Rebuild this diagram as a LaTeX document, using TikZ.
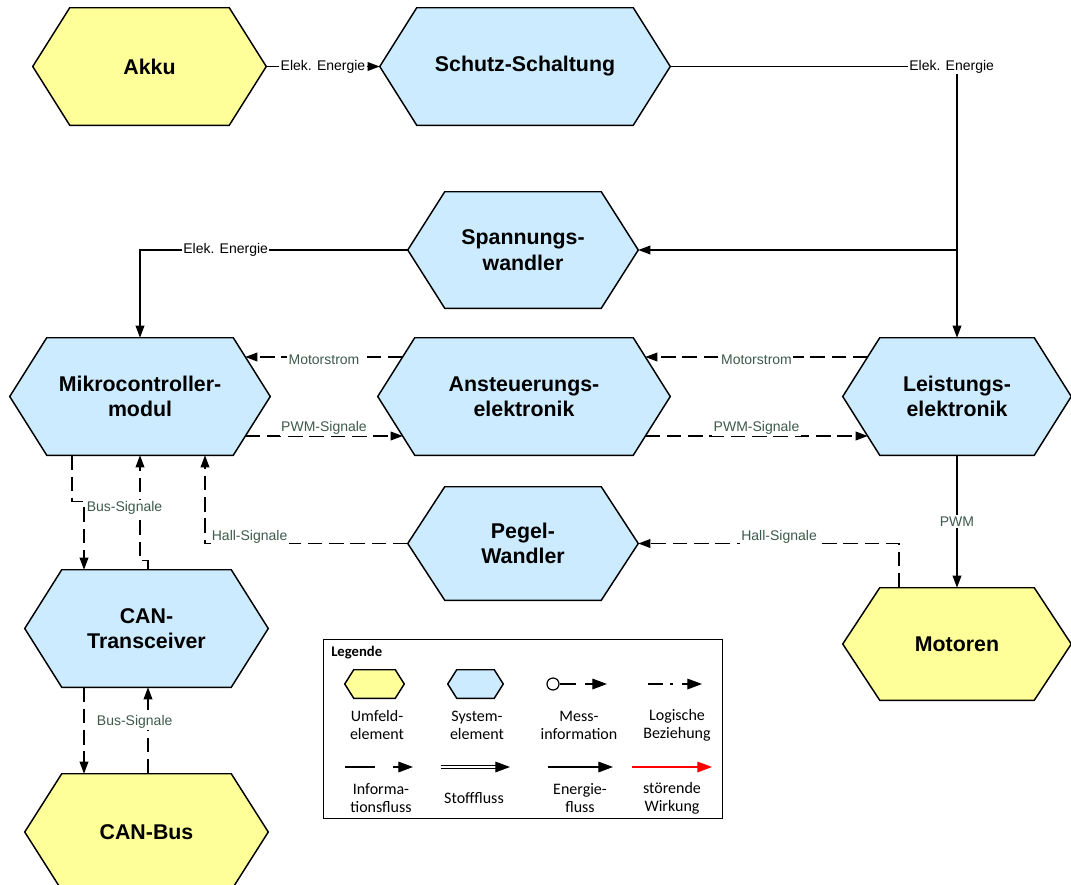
\documentclass[tikz,border=0pt]{standalone}
\usepackage{fontspec}
\setmainfont{Liberation Sans}
\newfontfamily\legfont{Carlito}
\usetikzlibrary{arrows.meta,calc,backgrounds}
\definecolor{umfeld}{HTML}{FFFF99}
\definecolor{system}{HTML}{CCEBFF}
\definecolor{sig}{HTML}{3E5A4C}
\tikzset{
 hexlabel/.style={inner sep=0pt, align=center, font=\fontsize{16}{19}\selectfont\bfseries},
 hexline/.style={draw=black, line width=1.1pt, line join=miter},
 energy/.style={draw=black, line width=1pt, -{Triangle[length=9pt,width=6.5pt]}},
 info/.style={energy, dash pattern=on 11pt off 5pt},
 elab/.style={fill=white, inner sep=1pt, font=\fontsize{10.5}{12}\selectfont},
 slab/.style={elab, text=sig},
 legtext/.style={align=center, inner sep=0pt, font=\legfont\fontsize{12}{13.5}\selectfont},
 legline/.style={line width=0.9pt},
 legarrow/.style={line width=0.9pt, -{Triangle[length=11pt,width=8pt]}},
}
\newcommand\hexa[7]{%
 \node[hexlabel, minimum width=#3*0.75pt, minimum height=#4*0.75pt] (#1) at (#2) {#7};
 \begin{scope}[on background layer]
 \filldraw[hexline, fill=#6] (#1.west) -- ($(#1.north west)+(#5,0)$) -- ($(#1.north east)+(-#5,0)$) -- (#1.east) -- ($(#1.south east)+(-#5,0)$) -- ($(#1.south west)+(#5,0)$) -- cycle;
 \end{scope}}
\begin{document}
\begin{tikzpicture}[x=0.75pt,y=-0.75pt]
\useasboundingbox (0,0) rectangle (1071,885);
% elements
\hexa{akku}{149.5,66.5}{233}{117}{37}{umfeld}{Akku}
\hexa{schutz}{525,66.5}{290}{117}{37}{system}{Schutz-Schaltung}
\hexa{spann}{523,250}{230}{116}{37}{system}{Spannungs-\\wandler}
\hexa{mikro}{140,396.5}{260}{117}{37}{system}{Mikrocontroller-\\modul}
\hexa{anst}{524,396.5}{292}{117}{37}{system}{Ansteuerungs-\\elektronik}
\hexa{leist}{957,396.5}{228}{117}{37}{system}{Leistungs-\\elektronik}
\hexa{pegel}{523,543.5}{230}{113}{37}{system}{Pegel-\\Wandler}
\hexa{cant}{146.5,628.5}{243}{117}{37}{system}{CAN-\\Transceiver}
\hexa{canbus}{146.5,832}{243}{116}{37}{umfeld}{CAN-Bus}
\hexa{motor}{957,644}{228}{112}{37}{umfeld}{Motoren}
% energy flows
\draw[energy] (akku.east) -- node[elab] (e1) {Elek. Energie} (schutz.west);
\draw[energy] (schutz.east) -| node[elab,pos=0.5,xshift=-4pt] (e2) {Elek. Energie} (leist.north);
\draw[energy] (leist.north |- spann.east) -- (spann.east);
\draw[energy] (spann.west) -| node[elab,pos=0.34] (e3) {Elek. Energie} (mikro.north);
\draw[energy] (leist.south) -- node[slab] (pwm) {PWM} (motor.north);
% information flows
\draw[info] ($(leist.west)+(25,-39.5)$) -- node[slab,yshift=-2pt] (m1) {Motorstrom} ($(anst.east)+(-25,-39.5)$);
\draw[info] ($(anst.west)+(25,-39.5)$) -- node[slab,yshift=-2pt] (m2) {Motorstrom} ($(mikro.east)+(-25,-39.5)$);
\draw[info] ($(mikro.east)+(-25,39.5)$) -- node[slab,yshift=6pt] (p1) {PWM-Signale} ($(anst.west)+(25,39.5)$);
\draw[info] ($(anst.east)+(-25,39.5)$) -- node[slab,yshift=6pt] (p2) {PWM-Signale} ($(leist.west)+(25,39.5)$);
\draw[info] ($(motor.north)+(-58,0)$) |- node[slab,pos=0.73,yshift=5pt] (h1) {Hall-Signale} (pegel.east);
\draw[info] (pegel.west) -| node[slab,pos=0.39,yshift=5pt] (h2) {Hall-Signale} ($(mikro.south)+(65,0)$);
\draw[info] ($(mikro.south)+(-68,0)$) |- ($(cant.north)+(-62.5,-68)$) -- ($(cant.north)+(-62.5,0)$);
\draw[info] ($(cant.north)+(1.5,0)$) -- ++(0,-9) -| (mikro.south);
\node[slab] (b1) at ($(cant.north)+(-22,-62)$) {Bus-Signale};
\draw[info] ($(cant.south)+(-62.5,0)$) -- ($(canbus.north)+(-62.5,0)$);
\draw[info] ($(canbus.north)+(1.5,0)$) -- node[slab,pos=0.6,xshift=-10pt] (b2) {Bus-Signale} ($(cant.south)+(1.5,0)$);
% legend
\node[draw, line width=0.6pt, minimum width=399*0.75pt, minimum height=179*0.75pt, inner sep=0pt] (legbox) at (522.5,728.5) {};
\node[anchor=west, inner sep=0pt, font=\legfont\bfseries\fontsize{11}{13}\selectfont] (legtitle) at (331,653) {Legende};
\hexa{legU}{374.5,684}{59}{28}{9}{umfeld}{}
\hexa{legS}{475.5,684}{55}{28}{9}{system}{}
\node[circle, draw, line width=0.9pt, minimum size=9pt, inner sep=0pt, fill=white] (messc) at (553,684) {};
\draw[legline] (messc.east) -- (576,684);
\draw[legarrow] (585,684) -- (607,684);
\draw[legline] (648,684) -- (663,684);
\draw[legline] (670,684) -- (672.5,684);
\draw[legarrow] (682,684) -- (702,684);
\node[legtext] (lt1) at (377,725) {Umfeld-\\element};
\node[legtext] (lt2) at (477,725) {System-\\element};
\node[legtext] (lt3) at (579,725) {Mess-\\information};
\node[legtext] (lt4) at (677,725) {Logische\\Beziehung};
\draw[legline] (345,767) -- (375,767);
\draw[legarrow] (393,767) -- (413,767);
\draw[double, line width=0.7pt, double distance=1.6pt, -{Triangle[length=11pt,width=8pt]}] (441,767) -- (510,767);
\draw[legarrow] (548,767) -- (613,767);
\draw[legarrow, red] (632,767) -- (712,767);
\node[legtext] (lt5) at (381,798) {Informa-\\tionsfluss};
\node[legtext] (lt6) at (474,798) {Stofffluss};
\node[legtext] (lt7) at (580,798) {Energie-\\fluss};
\node[legtext] (lt8) at (672,798) {störende\\Wirkung};
\end{tikzpicture}
\end{document}
